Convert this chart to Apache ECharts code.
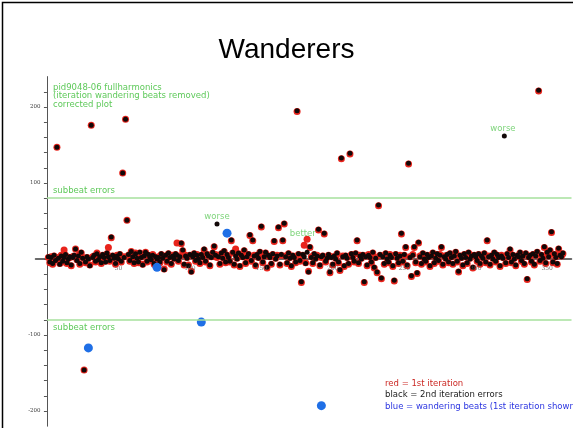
<!DOCTYPE html>
<html>
<head>
<meta charset="utf-8">
<script src="https://cdn.jsdelivr.net/npm/echarts@6/dist/echarts.min.js"></script>
<style>
  html, body { margin: 0; padding: 0; background: #fff; }
  #chart { width: 573px; height: 428px; }
</style>
</head>
<body>
<div id="chart"></div>
<script>
// Beat-by-beat timing errors (ms), beat number = index + 1
const firstIteration = [
  2, -5, 3, -7, 4, -1, 147, 2, -6, 5, -4, 12, 5, -6, 1, 2, -9, 3, 4, 13,
  -1, 5, -7, 8, 2, -146, -5, 2, 1, -8, 176, 3, 4, -4, 8, -2, 2, -6, 5, 3,
  -3, 7, 15, -3, 28, 4, 2, -7, 5, 1, 6, -4, 113, 3, 184, 51, 5, -3, 10, 2,
  -6, 8, 2, -5, 8, 3, -7, 5, 9, -4, 5, 3, -2, 6, -7, 2, 1, 3, -5, 6,
  2, -13, 4, -4, 7, 3, -7, 5, 1, 6, 21, -3, 4, 20, 11, -8, 5, 2, -8, 5,
  -16, 4, 7, -3, 6, 1, -6, 5, 3, 12, -4, 6, 5, -9, 3, 8, 16, 6, 2, 4,
  -7, 7, 2, 10, -5, 5, 3, -4, 24, 8, -8, 13, 1, 7, -10, 4, 3, 11, -6, 2,
  6, 31, -3, 24, 5, -9, 5, 2, 9, 42, -5, 4, 8, -12, 4, 3, -7, 6, 23, 1,
  5, 41, -8, 5, 24, 46, 4, -6, 7, 2, -10, 4, 3, -5, 194, 6, -3, -31, 5, 18,
  -5, 26, -16, 15, 3, -6, 6, 1, 5, 38, -9, 2, 4, 33, -4, 2, 5, -18, 3, -8,
  3, 1, 7, -5, -15, 132, 4, -10, 4, 2, -7, 138, 6, 3, -4, 7, 24, -6, 5, 1,
  5, -31, 4, -9, 6, 3, -5, 8, -12, 2, -18, 70, 5, -26, 4, -7, 7, 1, -5, 6,
  3, -10, -29, 6, 2, -6, 5, 33, -4, 5, 15, -9, 125, 3, -23, 6, 15, -5, -19, 21,
  4, -7, 7, 1, -4, 5, 3, -10, 5, 8, -6, 2, 6, -3, 6, 15, -8, 4, 1, 5,
  -5, 7, 3, -7, 5, 9, -4, -17, 4, 2, -9, 6, 3, -6, 8, 1, 5, -12, 5, 4,
  -3, 6, -7, 5, 2, 7, -5, 24, 4, -8, 4, 1, 8, -4, 5, 3, -10, 5, 2, 3,
  -6, 6, 3, 12, -5, 5, 1, -9, 4, 4, 8, -3, 5, -7, 7, -27, 3, 4, -4, 6,
  -8, 5, 9, 221, -3, 5, 2, 15, -6, 8, 4, 11, 35, -5, 6, 3, -7, 13, 6, 4, 7
];

const secondIteration = [
  3, -4, 2, -6, 5, -2, 147, 1, -7, 4, -3, 2, 6, -5, 0, 3, -8, 2, 5, 13,
  -2, 4, -6, 9, 1, -146, -4, 3, 0, -9, 176, 2, 5, -3, 7, -1, 3, -5, 6, 2,
  -4, 8, 3, -2, 29, 5, 1, -6, 4, 0, 7, -3, 113, 2, 184, 51, 6, -2, 10, 3,
  -5, 7, 1, -4, 9, 2, -8, 4, 9, -3, 6, 2, -1, 5, -6, 3, 0, 2, -4, 7,
  1, -14, 5, -3, 8, 2, -6, 4, 0, 7, 5, -2, 3, 21, 12, -7, 4, 1, -9, 6,
  -17, 3, 8, -2, 5, 0, -5, 6, 2, 13, -3, 7, 4, -8, 2, 9, 17, 5, 46, 3,
  -6, 8, 1, 11, -4, 6, 2, -3, 25, 9, -7, 4, 0, 8, -9, 5, 2, 12, -5, 3,
  7, 32, -2, 25, 4, -8, 6, 1, 10, 43, -4, 3, 9, -11, 5, 2, -6, 7, 24, 0,
  4, 42, -7, 6, 25, 47, 3, -5, 8, 1, -9, 5, 2, -4, 195, 7, -2, -30, 6, 3,
  -6, 9, -17, 16, 2, -5, 7, 0, 4, 39, -8, 3, 5, 34, -3, 1, 6, -17, 2, -7,
  4, 0, 8, -4, -14, 133, 3, -9, 5, 1, -6, 139, 7, 2, -3, 8, 25, -5, 4, 0,
  6, -30, 3, -8, 5, 2, -4, 9, -11, 1, -17, 71, 6, -25, 3, -6, 8, 0, -4, 5,
  2, -9, -28, 7, 1, -5, 4, 34, -3, 6, 16, -8, 126, 2, -22, 5, 16, -4, -18, 22,
  3, -6, 8, 0, -3, 6, 2, -9, 4, 9, -5, 1, 7, -2, 5, 16, -7, 3, 0, 6,
  -4, 8, 2, -6, 4, 10, -3, -16, 5, 1, -8, 7, 2, -5, 9, 0, 4, -11, 6, 3,
  -2, 7, -6, 4, 1, 8, -4, 25, 3, -7, 5, 0, 9, -3, 6, 2, -9, 4, 1, 162,
  -5, 7, 2, 13, -4, 6, 0, -8, 5, 3, 9, -2, 4, -6, 8, -26, 2, 5, -3, 7,
  -7, 4, 10, 222, -2, 6, 1, 16, -5, 9, 3, 12, 36, -4, 7, 2, -6, 14, 5, 3, 8
];

// Wandering beats: [beat, first-iteration error]
const wanderingBeats = [[29, -117], [77, -11], [108, -83], [126, 34], [192, -193]];

// Comments placed next to individual beats: [beat, error, text]
const annotations = [[119, 56, 'worse'], [179, 33, 'better'], [319, 171, 'worse']];

// Beat-number labels written along the zero line
const beatTickLabels = [50, 100, 150, 200, 250, 300, 350];

const subbeatLimit = 80;
const xMin = -8, xMax = 367, xStep = 2;
const yMin = -220, yMax = 240, yTickStep = 20, yLabelStep = 100;
const noteLines = ['pid9048-06 fullharmonics', '(iteration wandering beats removed)', 'corrected plot'];
const keyLines = [
  ['red = 1st iteration', '#cc2a25'],
  ['black = 2nd iteration errors', '#1a1a1a'],
  ['blue = wandering beats (1st iteration shown)', '#2b35e0']
];

const toPoints = arr => arr.map((v, i) => [i + 1, v]);
const green = '#5ec95a';
const lineGreen = '#a6e19c';

const chart = echarts.init(document.getElementById('chart'), null, { renderer: 'canvas' });

const graphics = [
  { type: 'rect', left: 0, top: 0, shape: { x: 0.5, y: 0.5, width: 572, height: 427 },
    style: { fill: 'none', stroke: '#000', lineWidth: 1.5 }, z: 100 }
];
noteLines.forEach((t, i) => graphics.push({
  type: 'text', left: 53, top: 83 + i * 8.6,
  style: { text: t, fill: green, font: '8.5px "DejaVu Sans", sans-serif' }
}));
keyLines.forEach((k, i) => graphics.push({
  type: 'text', left: 385, top: 379 + i * 11.5,
  style: { text: k[0], fill: k[1], font: '8.5px "DejaVu Sans", sans-serif' }
}));

chart.setOption({
  animation: false,
  backgroundColor: '#fff',
  title: {
    text: 'Wanderers', left: 'center', top: 31,
    textStyle: { fontFamily: '"Liberation Sans", Arial, sans-serif', fontSize: 28, fontWeight: 'normal', color: '#000' }
  },
  grid: { left: 35.5, right: 1.5, top: 76.6, bottom: 1.8, containLabel: false, outerBoundsMode: 'none' },
  xAxis: {
    type: 'value', min: xMin, max: xMax, interval: xStep,
    axisLine: { onZero: true, lineStyle: { color: '#3a3a3a', width: 1.5 } },
    axisTick: { show: false },
    splitLine: { show: false },
    axisLabel: { show: false }
  },
  yAxis: {
    type: 'value', min: yMin, max: yMax, interval: yTickStep,
    axisLine: { show: true, onZero: true, lineStyle: { color: '#555', width: 1 } },
    axisTick: { show: true, length: 3, lineStyle: { color: '#555' } },
    splitLine: { show: false },
    axisLabel: {
      fontSize: 5.5, color: '#444', margin: -5, fontFamily: '"DejaVu Serif", serif',
      showMinLabel: false, showMaxLabel: false,
      formatter: v => (v !== 0 && v % yLabelStep === 0 ? String(v) : '')
    }
  },
  graphic: graphics,
  series: [
    {
      name: 'limits', type: 'line', data: [], silent: true,
      markLine: {
        symbol: 'none', silent: true,
        lineStyle: { color: lineGreen, width: 1.5, type: 'solid' },
        label: { show: true, formatter: 'subbeat errors', color: green, fontSize: 8.5,
                 fontFamily: '"DejaVu Sans", sans-serif', distance: [6, 3] },
        data: [
          [{ coord: [0, subbeatLimit], label: { position: 'insideStartTop' } }, { coord: [xMax, subbeatLimit] }],
          [{ coord: [0, -subbeatLimit], label: { position: 'insideStartBottom' } }, { coord: [xMax, -subbeatLimit] }]
        ]
      }
    },
    {
      name: '1st iteration', type: 'scatter', data: toPoints(firstIteration),
      symbolSize: 7, itemStyle: { color: '#e8241c', opacity: 1 }
    },
    {
      name: '2nd iteration', type: 'scatter', data: toPoints(secondIteration),
      symbolSize: 5, itemStyle: { color: '#120808', opacity: 1 }
    },
    {
      name: 'wandering beats', type: 'scatter', data: wanderingBeats,
      symbolSize: 9, itemStyle: { color: '#1f6fe6', opacity: 1 }
    },
    {
      name: 'beat ticks', type: 'scatter', symbolSize: 0, silent: true, z: 5,
      data: beatTickLabels.map(b => [b, 0]),
      label: { show: true, position: 'bottom', distance: 6, formatter: p => String(p.value[0]),
               fontSize: 6, color: '#555', fontFamily: '"DejaVu Serif", serif' }
    },
    {
      name: 'notes', type: 'scatter', symbolSize: 0, silent: true, z: 5,
      data: annotations.map(a => ({ value: [a[0], a[1]], name: a[2] })),
      label: { show: true, position: 'inside', formatter: p => p.name, color: green, fontSize: 8.5,
               fontFamily: '"DejaVu Sans", sans-serif' }
    }
  ]
});
</script>
</body>
</html>
